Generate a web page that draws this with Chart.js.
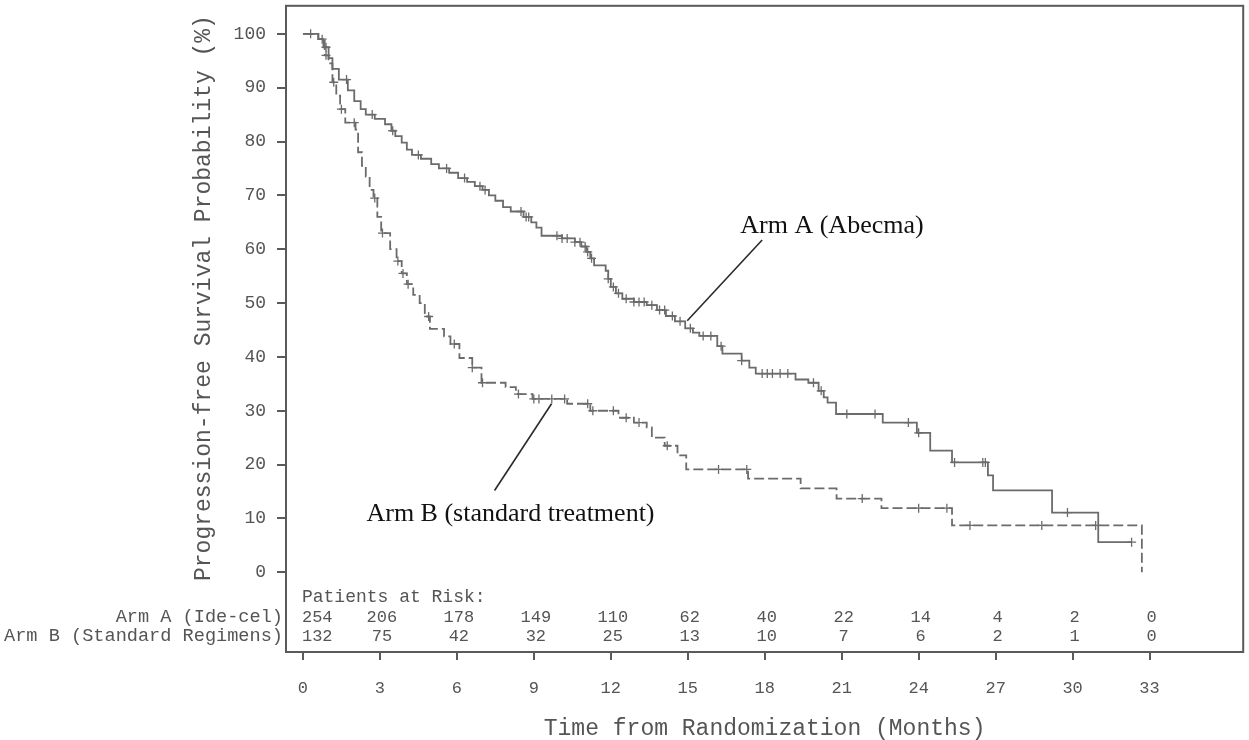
<!DOCTYPE html>
<html>
<head>
<meta charset="utf-8">
<script src="https://cdn.jsdelivr.net/npm/chart.js@4/dist/chart.umd.min.js"></script>
<style>
  html, body { margin: 0; padding: 0; background: #ffffff; }
  #wrap { width: 1249px; height: 740px; position: relative; }
</style>
</head>
<body>
<div id="wrap"><canvas id="km" width="1249" height="740"></canvas></div>
<script>
// ---------------- DATA ----------------
const armAName = 'Arm A (Ide-cel)';
const armBName = 'Arm B (Standard Regimens)';

// Kaplan-Meier step points: time (months) and survival (%) after each drop
const armATimes  = [0, 0.6, 0.8, 1.0, 1.15, 1.4, 1.75, 2.0, 2.25, 2.45, 2.8, 3.2, 3.45, 3.6, 3.85, 4.05, 4.25, 4.6, 5.0, 5.3, 5.7, 6.05, 6.4, 6.7, 7.0, 7.25, 7.5, 7.8, 8.1, 8.6, 8.9, 9.1, 9.3, 10.1, 10.6, 10.85, 11.05, 11.2, 11.35, 11.8, 11.9, 12.0, 12.2, 12.45, 12.9, 13.4, 13.8, 14.15, 14.5, 14.9, 15.2, 15.45, 16.15, 16.35, 17.1, 17.4, 17.65, 19.2, 19.7, 20.1, 20.3, 20.45, 20.78, 22.6, 23.93, 24.45, 25.3, 26.7, 26.9, 29.2, 31.0, 32.3];
const armAValues = [100, 99, 97.5, 95.5, 93.5, 91.5, 89.5, 87.5, 86, 85, 84.2, 83.2, 82, 81, 79.8, 78.5, 77.5, 76.8, 75.8, 75, 74.2, 73.2, 72.5, 71.7, 71, 70, 69, 67.8, 67, 66, 65, 64, 62.5, 62, 61.3, 60.5, 59.5, 58.3, 57, 56, 54.5, 53, 51.8, 50.8, 50.2, 49.6, 48.7, 47.6, 46.6, 45.3, 44.5, 43.9, 42, 40.6, 39.3, 38, 36.9, 35.8, 35.2, 33.7, 32.5, 31.5, 29.4, 27.8, 25.9, 22.6, 20.4, 18, 15.2, 11.1, 5.6, 5.6];

const armBTimes  = [0, 0.6, 0.85, 1.0, 1.15, 1.3, 1.45, 1.65, 2.05, 2.15, 2.3, 2.45, 2.6, 2.75, 2.9, 3.05, 3.4, 3.65, 3.85, 4.05, 4.3, 4.55, 4.75, 4.95, 5.5, 5.75, 6.1, 6.6, 6.96, 7.9, 8.3, 8.95, 10.3, 11.2, 12.3, 12.9, 13.4, 13.6, 14.1, 14.6, 14.94, 17.35, 19.4, 20.8, 22.55, 25.3, 32.7];
const armBValues = [100, 99, 96, 94.5, 91, 88.5, 86, 83.5, 82.2, 78, 75.5, 73.5, 71, 69.5, 66, 63, 60, 57.8, 55.5, 53.5, 51.5, 50, 47.5, 45.2, 43.8, 42.4, 39.8, 38, 35.2, 34.4, 33.1, 32.2, 31.3, 30, 28.7, 27.8, 26.9, 25, 23.5, 21.7, 19.1, 17.4, 15.6, 13.7, 11.9, 8.7, 0];

// censoring times (months)
const armACensorTimes = [0.3, 0.75, 0.9, 1.7, 2.7, 3.5, 4.5, 5.6, 6.3, 6.9, 7.1, 8.5, 8.7, 8.8, 9.9, 10.1, 10.3, 10.6, 10.8, 11.0, 11.1, 11.25, 11.9, 12.1, 12.3, 12.6, 12.9, 13.1, 13.3, 13.6, 13.9, 14.1, 14.4, 14.7, 15.1, 15.6, 15.9, 16.3, 17.1, 17.9, 18.1, 18.3, 18.6, 18.9, 19.9, 20.2, 21.2, 22.3, 23.6, 24.0, 25.4, 26.5, 26.6, 29.8, 32.3];
const armBCensorTimes = [0.9, 1.2, 1.5, 2.0, 2.8, 3.1, 3.7, 3.9, 4.1, 4.9, 5.9, 6.6, 7.0, 8.4, 9.0, 9.2, 9.7, 10.2, 11.1, 11.3, 12.1, 12.6, 13.1, 14.2, 16.2, 17.3, 21.8, 24.0, 25.1, 26.0, 28.8, 30.9];

// axis ticks
const xTickValues = [0, 3, 6, 9, 12, 15, 18, 21, 24, 27, 30, 33];
const yTickValues = [0, 10, 20, 30, 40, 50, 60, 70, 80, 90, 100];

// patients at risk at each x tick
const atRiskA = [254, 206, 178, 149, 110, 62, 40, 22, 14, 4, 2, 0];
const atRiskB = [132, 75, 42, 32, 25, 13, 10, 7, 6, 2, 1, 0];

// text labels
const xTitle = 'Time from Randomization (Months)';
const yTitle = 'Progression-free Survival Probability (%)';
const atRiskTitle = 'Patients at Risk:';
const calloutAText = 'Arm A (Abecma)';
const calloutBText = 'Arm B (standard treatment)';

// ---------------- helpers ----------------
function toPoints(ts, vs) { return ts.map((t, i) => ({ x: t, y: vs[i] })); }
function survivalAt(ts, vs, t) {
  let v = vs[0];
  for (let i = 0; i < ts.length; i++) { if (ts[i] <= t) v = vs[i]; else break; }
  return v;
}
function censorPoints(ts, vs, cs) { return cs.map(c => ({ x: c, y: survivalAt(ts, vs, c) })); }

// callouts in data units (anchor text at label, line from label to curve)
const callouts = [
  { text: calloutAText, tx: 20.62, ty: 63.0, from: [17.9, 61.7], to: [14.98, 46.7] },
  { text: calloutBText, tx: 8.09,  ty: 9.44, from: [9.69, 31.3], to: [7.47, 15.2] }
];

const MONO = '"Liberation Mono", "DejaVu Sans Mono", monospace';
const SERIF = '"Liberation Serif", "DejaVu Serif", serif';
const AXIS_COLOR = '#5a5a5a';
const TEXT_COLOR = '#555555';
const CURVE_COLOR = '#6b6b6b';

// ---------------- plugins ----------------
const framePlugin = {
  id: 'frame',
  afterDraw(chart) {
    const { ctx, chartArea: a } = chart;
    ctx.save();
    ctx.strokeStyle = AXIS_COLOR;
    ctx.lineWidth = 2;
    ctx.strokeRect(a.left, a.top, a.right - a.left, a.bottom - a.top);
    ctx.restore();
  }
};

const yTitlePlugin = {
  id: 'yTitle',
  afterDraw(chart) {
    const { ctx } = chart;
    const ys = chart.scales.y;
    const cy = (ys.getPixelForValue(0) + ys.getPixelForValue(100)) / 2 - 5;
    ctx.save();
    ctx.translate(204, cy);
    ctx.rotate(-Math.PI / 2);
    ctx.font = '23px ' + MONO;
    ctx.fillStyle = TEXT_COLOR;
    ctx.textAlign = 'center';
    ctx.textBaseline = 'middle';
    ctx.fillText(yTitle, 0, 0);
    ctx.restore();
  }
};

const atRiskPlugin = {
  id: 'atRisk',
  afterDraw(chart) {
    const { ctx, chartArea: a } = chart;
    const xs = chart.scales.x;
    const rowHead = a.bottom - 55, rowA = a.bottom - 35, rowB = a.bottom - 16;
    ctx.save();
    ctx.fillStyle = TEXT_COLOR;
    ctx.textBaseline = 'middle';
    ctx.font = '18px ' + MONO;
    ctx.textAlign = 'left';
    ctx.fillText(atRiskTitle, xs.getPixelForValue(0) - 1, rowHead);
    ctx.font = '18.6px ' + MONO;
    ctx.textAlign = 'right';
    ctx.fillText(armAName, a.left - 3, rowA);
    ctx.fillText(armBName, a.left - 3, rowB);
    ctx.font = '17px ' + MONO;
    xTickValues.forEach((t, i) => {
      const px = xs.getPixelForValue(t);
      if (i === 0) { ctx.textAlign = 'left'; ctx.fillText(String(atRiskA[i]), px - 1, rowA); ctx.fillText(String(atRiskB[i]), px - 1, rowB); }
      else { ctx.textAlign = 'center'; ctx.fillText(String(atRiskA[i]), px + 2, rowA); ctx.fillText(String(atRiskB[i]), px + 2, rowB); }
    });
    ctx.restore();
  }
};

const calloutPlugin = {
  id: 'callouts',
  afterDatasetsDraw(chart) {
    const { ctx } = chart;
    const xs = chart.scales.x, ys = chart.scales.y;
    ctx.save();
    ctx.strokeStyle = '#2a2a2a';
    ctx.lineWidth = 1.6;
    ctx.fillStyle = '#111111';
    ctx.font = '26px ' + SERIF;
    ctx.textAlign = 'center';
    ctx.textBaseline = 'alphabetic';
    callouts.forEach(c => {
      ctx.beginPath();
      ctx.moveTo(xs.getPixelForValue(c.from[0]), ys.getPixelForValue(c.from[1]));
      ctx.lineTo(xs.getPixelForValue(c.to[0]), ys.getPixelForValue(c.to[1]));
      ctx.stroke();
      ctx.fillText(c.text, xs.getPixelForValue(c.tx), ys.getPixelForValue(c.ty));
    });
    ctx.restore();
  }
};

function zeroPad(s) { s.paddingTop = 0; s.paddingBottom = 0; s.paddingLeft = 0; s.paddingRight = 0; }

// ---------------- chart ----------------
const ctx = document.getElementById('km').getContext('2d');
new Chart(ctx, {
  type: 'scatter',
  data: {
    datasets: [
      { label: armAName, data: toPoints(armATimes, armAValues), showLine: true, stepped: true,
        borderColor: CURVE_COLOR, borderWidth: 1.8, pointRadius: 0, fill: false },
      { label: armBName, data: toPoints(armBTimes, armBValues), showLine: true, stepped: true,
        borderColor: CURVE_COLOR, borderWidth: 1.8, borderDash: [10, 4], pointRadius: 0, fill: false },
      { label: armAName + ' censored', data: censorPoints(armATimes, armAValues, armACensorTimes), showLine: false,
        pointStyle: 'cross', pointRadius: 4.5, borderColor: CURVE_COLOR, borderWidth: 1.3 },
      { label: armBName + ' censored', data: censorPoints(armBTimes, armBValues, armBCensorTimes), showLine: false,
        pointStyle: 'cross', pointRadius: 4.5, borderColor: CURVE_COLOR, borderWidth: 1.3 }
    ]
  },
  options: {
    responsive: false,
    animation: false,
    devicePixelRatio: 1,
    layout: { padding: { top: 4, right: 4, left: 0, bottom: 0 } },
    plugins: { legend: { display: false }, tooltip: { enabled: false }, title: { display: false } },
    scales: {
      x: {
        type: 'linear', min: -0.66, max: 36.65,
        afterBuildTicks: s => { s.ticks = xTickValues.map(v => ({ value: v })); },
        afterFit: s => { s.height = 88; zeroPad(s); },
        grid: { drawOnChartArea: false, drawTicks: true, tickLength: 8, color: AXIS_COLOR, lineWidth: 2 },
        border: { display: true, color: AXIS_COLOR, width: 2 },
        ticks: { font: { family: MONO, size: 17 }, color: TEXT_COLOR, padding: 18, maxRotation: 0, autoSkip: false },
        title: { display: true, text: xTitle, font: { family: MONO, size: 23 }, color: TEXT_COLOR, padding: { top: 0, bottom: -3 } }
      },
      y: {
        type: 'linear', min: -14.8, max: 105.2,
        afterBuildTicks: s => { s.ticks = yTickValues.map(v => ({ value: v })); },
        afterFit: s => { s.width = 286; zeroPad(s); },
        grid: { drawOnChartArea: false, drawTicks: true, tickLength: 9, color: AXIS_COLOR, lineWidth: 2 },
        border: { display: true, color: AXIS_COLOR, width: 2 },
        ticks: { font: { family: MONO, size: 18 }, color: TEXT_COLOR, padding: 11, autoSkip: false }
      }
    }
  },
  plugins: [framePlugin, yTitlePlugin, atRiskPlugin, calloutPlugin]
});
</script>
</body>
</html>
